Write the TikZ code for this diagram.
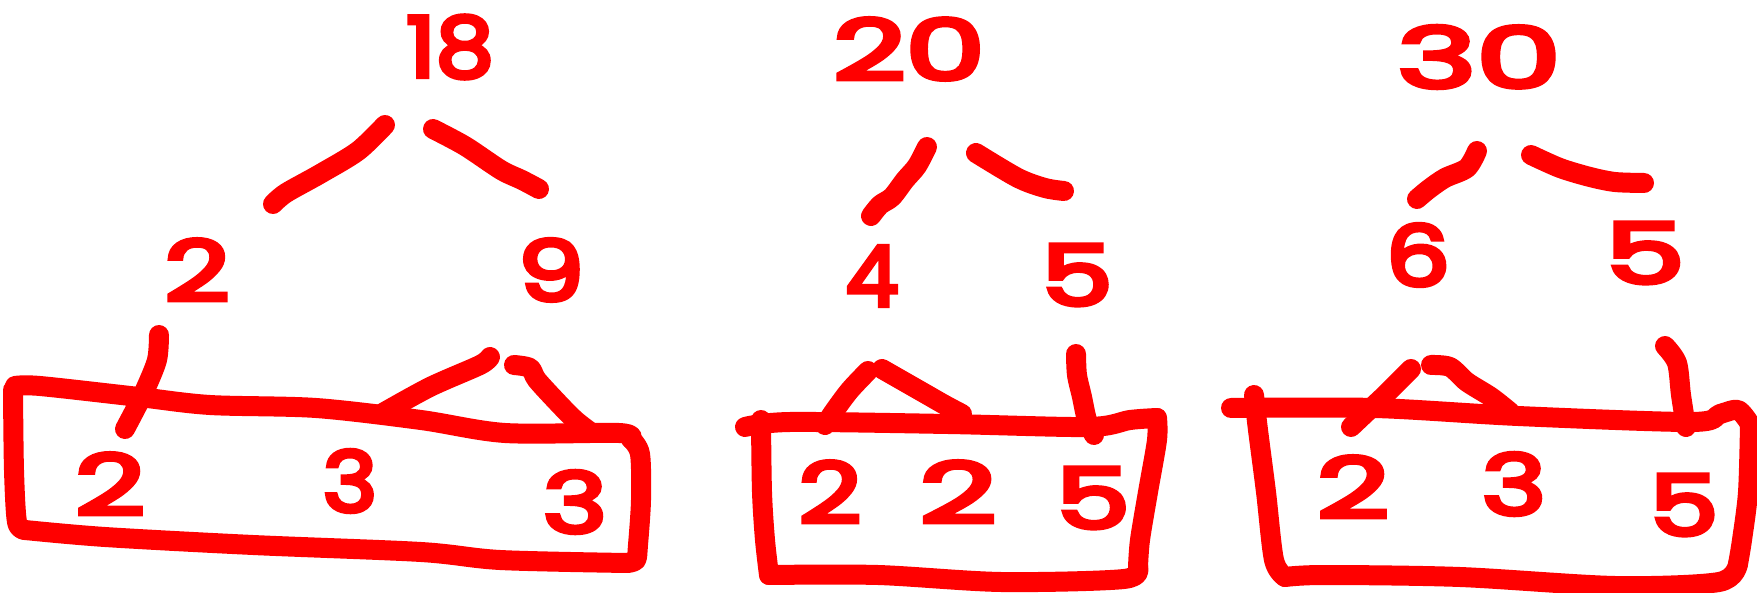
\documentclass[tikz,border=0pt]{standalone}
\usepackage{fontspec}
\setmainfont{Poppins}
\newfontfamily\handfont[FakeBold=5]{Poppins}
\definecolor{pen}{RGB}{255,0,0}
\newcommand{\widedigit}[2][1.35]{\scalebox{#1}[1]{#2}}
\tikzset{
  penline/.style={draw=pen, line width=20pt, line cap=round, line join=round},
  num/.style={text=pen, inner sep=0pt, anchor=center, font=\fontsize{84}{84}\selectfont\handfont}
}
\begin{document}
\begin{tikzpicture}[x=1pt,y=-1pt]
\useasboundingbox (0,0) rectangle (1757,593);
% ---------- tree 1 ----------
\node[num] (n18) at (450,47) {\widedigit[1.1]{18}};
\node[num] (n2a) at (197,270) {\widedigit{2}};
\node[num] (n9) at (551,270) {\widedigit[1.25]{9}};
\node[num] (c2a) at (110,484) {\widedigit[1.45]{2}};
\node[num] (c3a) at (350,481) {\widedigit[1.1]{3}};
\node[num] (c3b) at (575,502) {\widedigit[1.3]{3}};
\draw[penline] plot[smooth] coordinates {(385,125) (358,151) (320,174) (286,193) (273,204)};
\draw[penline] plot[smooth] coordinates {(433,129) (465,146) (501,170) (522,180) (539,189)};
\draw[penline] plot[smooth] coordinates {(159,335) (157,360) (145,390) (135,410) (125,429)};
\draw[penline] plot[smooth] coordinates {(490,357) (480,365) (430,387) (381,414)};
\draw[penline] plot[smooth] coordinates {(514,365) (530,368) (537,380) (560,405) (575,420) (589,431)};
\draw[penline] plot[smooth] coordinates {(15,386) (40,386) (139,397) (210,405) (316,408) (421,420) (505,433) (619,433) (631,439)};
\draw[penline] plot[smooth] coordinates {(631,439) (640,454) (641,500) (638,545) (636,560) (627,563)};
\draw[penline] plot[smooth] coordinates {(627,563) (500,560) (421,552) (253,545) (105,537) (25,530)};
\draw[penline] plot[smooth] coordinates {(25,530) (17,522) (14,470) (13,390)};
% ---------- tree 2 ----------
\node[num] (n20) at (909,49) {\widedigit[1.5]{20}};
\node[num] (n4) at (872,276) {\widedigit[1.0]{4}};
\node[num] (n5a) at (1077,275) {\widedigit{5}};
\node[num] (d2a) at (830,492) {\widedigit[1.3]{2}};
\node[num] (d2b) at (958,492) {\widedigit[1.6]{2}};
\node[num] (d5) at (1093,498) {\widedigit[1.4]{5}};
\draw[penline] plot[smooth] coordinates {(927,147) (917,166) (905,180) (892,197) (880,205) (871,216)};
\draw[penline] plot[smooth] coordinates {(976,153) (1018,178) (1045,188) (1064,191)};
\draw[penline] plot[smooth] coordinates {(868,371) (850,390) (835,410) (825,425)};
\draw[penline] plot[smooth] coordinates {(882,369) (924,393) (945,405) (962,414)};
\draw[penline] plot[smooth] coordinates {(1076,354) (1077,375) (1082,397) (1087,420) (1094,435)};
\draw[penline] plot[smooth] coordinates {(745,427) (790,422) (948,424) (1089,427) (1130,420) (1157,418)};
\draw[penline] plot[smooth] coordinates {(761,420) (762,492) (765,540) (769,575)};
\draw[penline] plot[smooth] coordinates {(769,575) (878,575) (1001,582) (1124,579) (1138,567)};
\draw[penline] plot[smooth] coordinates {(1157,418) (1157,440) (1148,492) (1140,540) (1138,567)};
% ---------- tree 3 ----------
\node[num] (n30) at (1479,57) {\widedigit[1.6]{30}};
\node[num] (n6) at (1418,255) {\widedigit[1.2]{6}};
\node[num] (n5b) at (1645,253) {\widedigit[1.5]{5}};
\node[num] (e2) at (1353,487) {\widedigit[1.5]{2}};
\node[num] (e3) at (1514,484) {\widedigit[1.3]{3}};
\node[num] (e5) at (1684,505) {\widedigit[1.3]{5}};
\draw[penline] plot[smooth] coordinates {(1477,151) (1467,168) (1445,178) (1429,189) (1417,199)};
\draw[penline] plot[smooth] coordinates {(1531,155) (1560,168) (1590,177) (1615,182) (1644,183)};
\draw[penline] plot[smooth] coordinates {(1411,369) (1385,395) (1369,410) (1351,427)};
\draw[penline] plot[smooth] coordinates {(1431,365) (1450,367) (1467,382) (1491,397) (1510,412)};
\draw[penline] plot[smooth] coordinates {(1665,346) (1677,363) (1681,395) (1686,427)};
\draw[penline] plot[smooth] coordinates {(1231,408) (1375,408) (1518,416) (1692,422) (1720,414) (1738,410) (1750,424)};
\draw[penline] plot[smooth] coordinates {(1254,395) (1258,430) (1266,492) (1274,560) (1285,577)};
\draw[penline] plot[smooth] coordinates {(1285,577) (1324,575) (1460,577) (1615,586) (1719,582) (1738,564)};
\draw[penline] plot[smooth] coordinates {(1750,424) (1748,492) (1742,540) (1738,564)};
\end{tikzpicture}
\end{document}
